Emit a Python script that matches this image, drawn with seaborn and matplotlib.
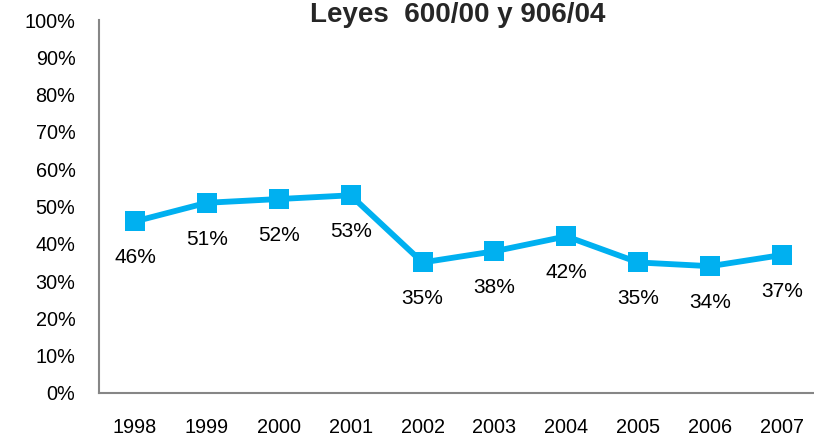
import pandas as pd
import matplotlib.pyplot as plt
import seaborn as sns

# Values
years = ["1998", "1999", "2000", "2001", "2002", "2003", "2004", "2005", "2006", "2007"]
share = [0.46, 0.51, 0.52, 0.53, 0.35, 0.38, 0.42, 0.35, 0.34, 0.37]
point_labels = ["46%", "51%", "52%", "53%", "35%", "38%", "42%", "35%", "34%", "37%"]
y_ticks = [0.0, 0.1, 0.2, 0.3, 0.4, 0.5, 0.6, 0.7, 0.8, 0.9, 1.0]

sns.set_style("white")
plt.rcParams["font.family"] = ["Liberation Sans", "DejaVu Sans"]

df = pd.DataFrame({"year": years, "share": share})
df["pos"] = range(len(df))

fig = plt.figure(figsize=(8.14, 4.37), dpi=100)
ax = fig.add_axes([99 / 814, 1 - 393 / 437, 719 / 814, 373 / 437])

line_color = "#00B0F0"
sns.lineplot(data=df, x="pos", y="share", ax=ax, color=line_color,
             linewidth=4.2, marker="s", markersize=14.5, markeredgewidth=0)

# value labels sit under each marker
for i, row in df.iterrows():
    ax.annotate(point_labels[i], (row["pos"], row["share"]),
                xytext=(0, -42), textcoords="offset pixels",
                ha="center", va="baseline", fontsize=15, color="black")

ax.set_xlim(-0.5, len(years) - 0.5)
ax.set_ylim(0, 1)
ax.set_xticks(df["pos"])
ax.set_xticklabels(years)
ax.set_yticks(y_ticks)
ax.set_yticklabels([f"{int(round(t * 100))}%" for t in y_ticks])
ax.set_xlabel("")
ax.set_ylabel("")
ax.tick_params(axis="both", length=0, labelsize=14.3, colors="black")
ax.tick_params(axis="y", pad=17)
ax.tick_params(axis="x", pad=18)

for side in ["top", "right"]:
    ax.spines[side].set_visible(False)
for side in ["left", "bottom"]:
    ax.spines[side].set_color("#868686")
    ax.spines[side].set_linewidth(1.5)

fig.text(458 / 814, 1 - 22 / 437, "Leyes  600/00 y 906/04", ha="center", va="baseline",
         fontsize=20, fontweight="bold")

fig.savefig("out.png", dpi=100)
